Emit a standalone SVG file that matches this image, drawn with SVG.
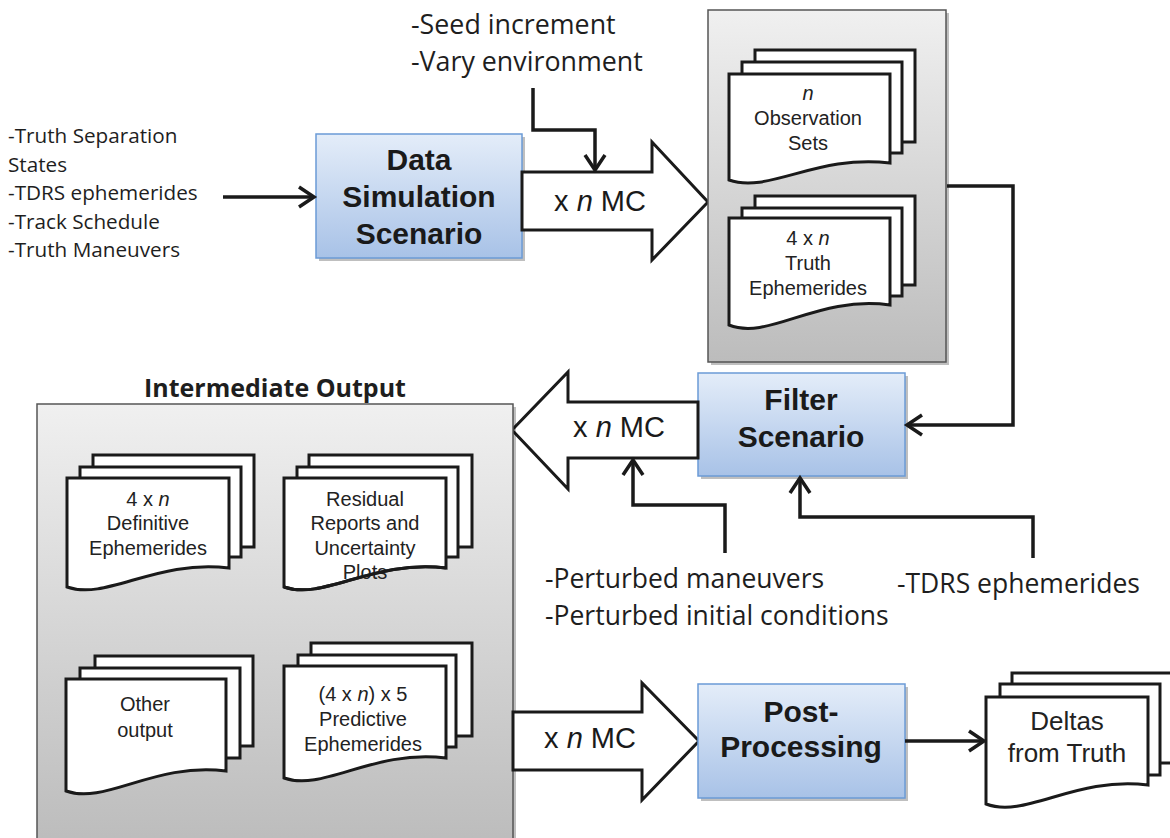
<svg xmlns="http://www.w3.org/2000/svg" width="1170" height="838" viewBox="0 0 1170 838">
<style>
.lst{font-family:"Open Sans","Liberation Sans",sans-serif;fill:#1e1e1e}
.doc{fill:#fff;stroke:#1a1a1a;stroke-width:3;stroke-linejoin:miter}
.dt{font-family:"Liberation Sans",Arial,sans-serif;fill:#222;text-anchor:middle}
.bt{font-family:"Liberation Sans",Arial,sans-serif;font-size:30px;font-weight:bold;fill:#1a1a1a;text-anchor:middle}
.mc{font-family:"Liberation Sans",Arial,sans-serif;font-size:29px;fill:#1a1a1a;text-anchor:middle}
.big{fill:#fff;stroke:#1a1a1a;stroke-width:3;stroke-linejoin:miter}
.box{stroke:#6b9bd6;stroke-width:1.5;fill:url(#blue)}
.pan{stroke:#555;stroke-width:1.5;fill:url(#gray)}
.shd{fill:#000;opacity:0.25}
.con{fill:none;stroke:#1a1a1a;stroke-width:3.5;stroke-linejoin:miter}
</style>
<defs>
<linearGradient id="blue" x1="0" y1="0" x2="0" y2="1">
<stop offset="0" stop-color="#e4edf9"/>
<stop offset="1" stop-color="#a8c2e7"/>
</linearGradient>
<linearGradient id="gray" x1="0" y1="0" x2="0" y2="1">
<stop offset="0" stop-color="#f0f0f0"/>
<stop offset="1" stop-color="#bcbcbc"/>
</linearGradient>
<marker id="ah" markerUnits="userSpaceOnUse" markerWidth="22" markerHeight="26" refX="18" refY="12" orient="auto" overflow="visible">
<path d="M3,2 L18,12 L3,22" fill="none" stroke="#1a1a1a" stroke-width="3.5"/>
</marker>
</defs>
<rect width="1170" height="838" fill="#fff"/>

<g id="inputs-left">
<text class="lst" font-size="20.7" x="8" y="143">-Truth Separation</text>
<text class="lst" font-size="20.7" x="8" y="172">States</text>
<text class="lst" font-size="20.7" x="8" y="200">-TDRS ephemerides</text>
<text class="lst" font-size="20.7" x="8" y="229">-Track Schedule</text>
<text class="lst" font-size="20.7" x="8" y="257">-Truth Maneuvers</text>
</g>

<g id="inputs-seed">
<text class="lst" font-size="26.8" x="411" y="34">-Seed increment</text>
<text class="lst" font-size="26.8" x="411" y="71">-Vary environment</text>
</g>

<g id="inputs-perturbed">
<text class="lst" font-size="26.5" x="545" y="588">-Perturbed maneuvers</text>
<text class="lst" font-size="26.5" x="545" y="625">-Perturbed initial conditions</text>
</g>

<g id="inputs-tdrs">
<text class="lst" font-size="26.5" x="897" y="593">-TDRS ephemerides</text>
</g>

<g id="data-simulation">
<rect class="shd" x="319" y="137" width="206" height="124"/>
<rect class="box" x="316" y="134" width="206" height="124"/>
<text class="bt" x="419" y="170">Data</text>
<text class="bt" x="419" y="207">Simulation</text>
<text class="bt" x="419" y="244">Scenario</text>
</g>

<g id="mc-arrow-1">
<polygon class="big" points="522,172 652,172 652,142 708,202 652,260 652,230 522,230"/>
<text class="mc" x="600" y="211">x <tspan font-style="italic">n</tspan> MC</text>
</g>

<g id="sim-output">
<rect class="shd" x="711" y="13" width="238" height="352"/>
<rect class="pan" x="708" y="10" width="238" height="352"/>
<rect class="doc" x="755" y="50" width="160" height="92"/>
<rect class="doc" x="742" y="62" width="160" height="91"/>
<path class="doc" d="M729,74 H890 V163 C817,154 769,194 729,180 Z"/>
<text class="dt" font-size="20" x="808" y="100" font-style="italic">n</text>
<text class="dt" font-size="20" x="808" y="125">Observation</text>
<text class="dt" font-size="20" x="808" y="150">Sets</text>
<rect class="doc" x="755" y="196" width="160" height="89"/>
<rect class="doc" x="742" y="208" width="160" height="88"/>
<path class="doc" d="M729,218 H890 V305 C817,295 769,341 729,325 Z"/>
<text class="dt" font-size="20" x="808" y="245">4 x <tspan font-style="italic">n</tspan></text>
<text class="dt" font-size="20" x="808" y="270">Truth</text>
<text class="dt" font-size="20" x="808" y="295">Ephemerides</text>
</g>

<g id="filter-scenario">
<rect class="shd" x="701" y="376" width="207" height="103"/>
<rect class="box" x="698" y="373" width="207" height="103"/>
<text class="bt" x="801" y="410">Filter</text>
<text class="bt" x="801" y="447">Scenario</text>
</g>

<g id="mc-arrow-2">
<polygon class="big" points="698,402 568,402 568,372 512,430 568,489 568,458 698,458"/>
<text class="mc" x="619" y="437">x <tspan font-style="italic">n</tspan> MC</text>
</g>

<g id="intermediate-output">
<text font-family="'Open Sans','Liberation Sans',sans-serif" font-weight="bold" font-size="25" fill="#1e1e1e" x="275" y="397" text-anchor="middle">Intermediate Output</text>
<rect class="shd" x="40" y="407" width="476" height="440"/>
<rect class="pan" x="37" y="404" width="476" height="440"/>
<rect class="doc" x="93" y="455" width="161" height="92"/>
<rect class="doc" x="80" y="467" width="161" height="90"/>
<path class="doc" d="M67,478 H229 V568 C156,559 107,601 67,587 Z"/>
<text class="dt" font-size="20" x="148" y="506">4 x <tspan font-style="italic">n</tspan></text>
<text class="dt" font-size="20" x="148" y="530">Definitive</text>
<text class="dt" font-size="20" x="148" y="555">Ephemerides</text>
<rect class="doc" x="309" y="455" width="163" height="92"/>
<rect class="doc" x="297" y="467" width="161" height="90"/>
<path class="doc" d="M284,478 H446 V568 C373,559 324,601 284,587 Z"/>
<text class="dt" font-size="20" x="365" y="506">Residual</text>
<text class="dt" font-size="20" x="365" y="530">Reports and</text>
<text class="dt" font-size="20" x="365" y="555">Uncertainty</text>
<text class="dt" font-size="20" x="365" y="579">Plots</text>
<path d="M446,568 C373,559 324,601 284,587" fill="none" stroke="#1a1a1a" stroke-width="3"/>
<rect class="doc" x="95" y="656" width="158" height="90"/>
<rect class="doc" x="80" y="668" width="160" height="90"/>
<path class="doc" d="M66,679 H226 V771 C154,762 106,805 66,791 Z"/>
<text class="dt" font-size="20" x="145" y="711">Other</text>
<text class="dt" font-size="20" x="145" y="737">output</text>
<rect class="doc" x="311" y="643" width="161" height="93"/>
<rect class="doc" x="298" y="655" width="158" height="92"/>
<path class="doc" d="M284,666 H446 V758 C373,749 324,792 284,778 Z"/>
<text class="dt" font-size="20" x="363" y="701">(4 x <tspan font-style="italic">n</tspan>) x 5</text>
<text class="dt" font-size="20" x="363" y="726">Predictive</text>
<text class="dt" font-size="20" x="363" y="751">Ephemerides</text>
</g>

<g id="mc-arrow-3">
<polygon class="big" points="513,712 642,712 642,683 699,741 642,800 642,770 513,770"/>
<text class="mc" x="590" y="748">x <tspan font-style="italic">n</tspan> MC</text>
</g>

<g id="post-processing">
<rect class="shd" x="701" y="687" width="207" height="114"/>
<rect class="box" x="698" y="684" width="207" height="114"/>
<text class="bt" x="801" y="722">Post-</text>
<text class="bt" x="801" y="757">Processing</text>
</g>

<g id="deltas">
<rect class="doc" x="1012" y="673" width="170" height="90"/>
<rect class="doc" x="1000" y="684" width="160" height="91"/>
<path class="doc" d="M986,697 H1148 V785 C1075,776 1026,819 986,804 Z"/>
<text class="dt" font-size="26" x="1067" y="730">Deltas</text>
<text class="dt" font-size="26" x="1067" y="762">from Truth</text>
</g>

<g id="connectors">
<path class="con" d="M223,197 H314" marker-end="url(#ah)"/>
<path class="con" d="M533,88 V130 H595 V170" marker-end="url(#ah)"/>
<path class="con" d="M947,186 H1013 V425 H907" marker-end="url(#ah)"/>
<path class="con" d="M725,553 V505 H633 V460" marker-end="url(#ah)"/>
<path class="con" d="M1033,558 V517 H800 V478" marker-end="url(#ah)"/>
<path class="con" d="M905,741 H984" marker-end="url(#ah)"/>
</g>
</svg>
